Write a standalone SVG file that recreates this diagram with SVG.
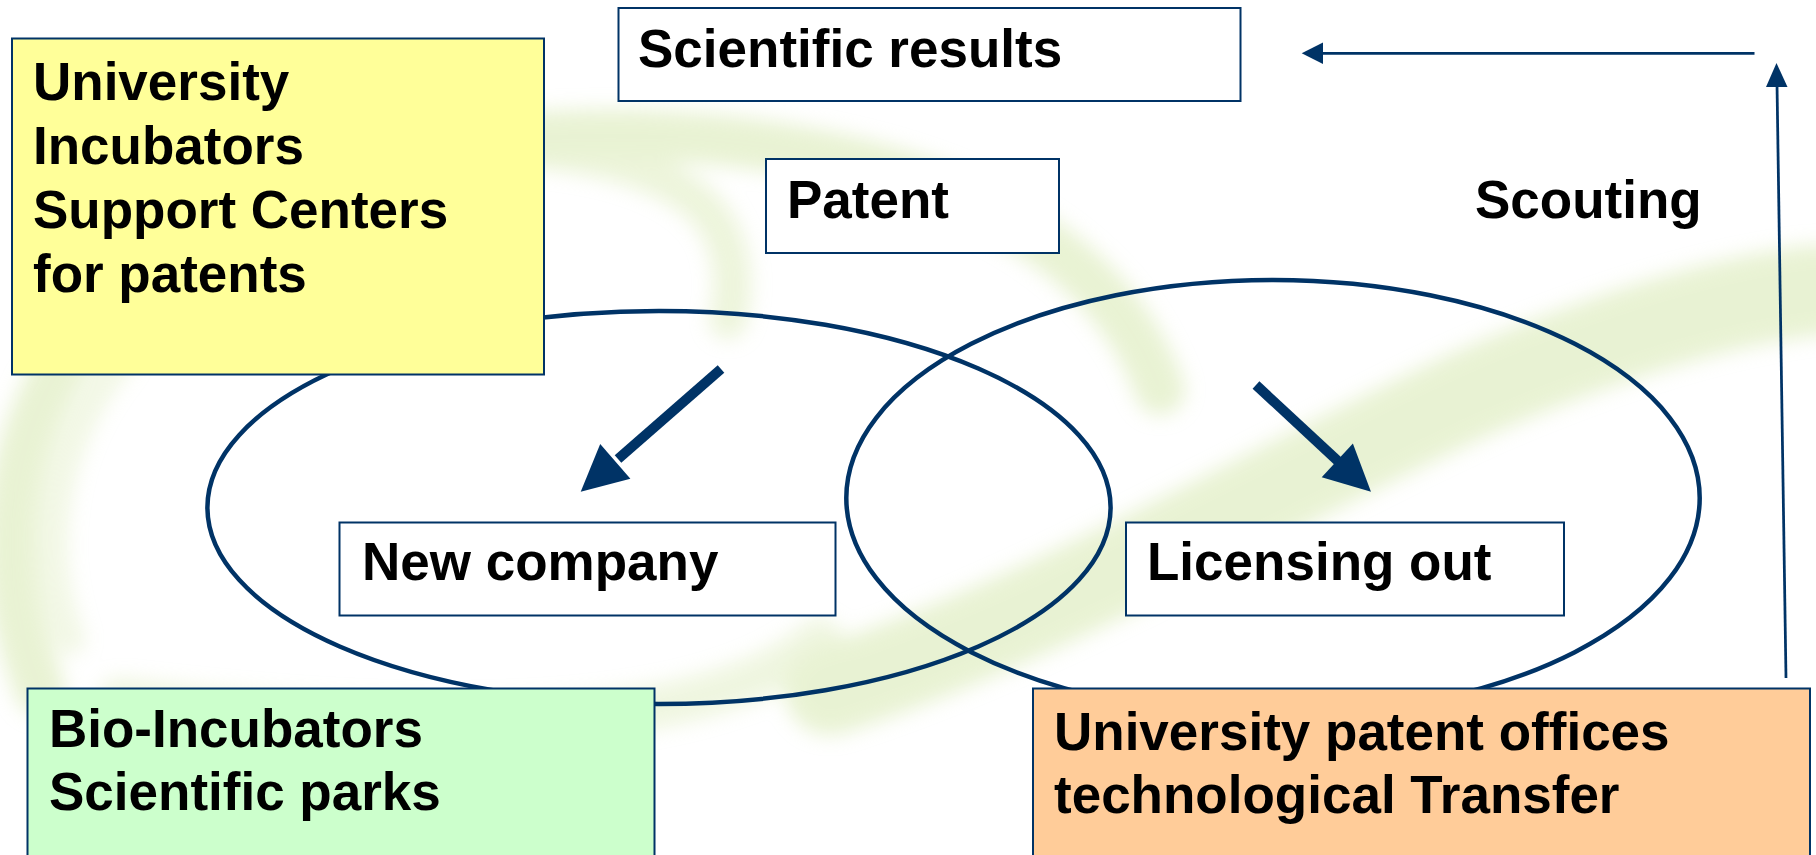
<svg xmlns="http://www.w3.org/2000/svg" width="1816" height="855" viewBox="0 0 1816 855">
  <style>
    .lbl { font-family: "Liberation Sans", Arial, sans-serif; font-weight: bold; font-size: 53px; fill: #000; }
    .box { stroke: #003366; stroke-width: 2; }
    .ring { fill: none; stroke: #003366; stroke-width: 4.5; }
    .thin { stroke: #003366; stroke-width: 2.75; fill: none; }
    .thick { stroke: #003366; stroke-width: 10; fill: none; }
    .head { fill: #003366; }
    .swoosh { fill: none; stroke: #d3e6a8; stroke-linecap: round; }
  </style>
  <defs>
    <filter id="soft" x="-10%" y="-10%" width="120%" height="120%">
      <feGaussianBlur stdDeviation="10"/>
    </filter>
  </defs>

  <rect width="1816" height="855" fill="#ffffff"/>

  <!-- faint logo watermark behind the chart -->
  <g id="watermark" filter="url(#soft)" opacity="0.5">
    <path class="swoosh" stroke-width="50" d="M 40 690 C -10 560 0 420 110 300 C 260 150 520 120 720 140 C 960 165 1110 250 1160 390"/>
    <path class="swoosh" stroke-width="44" opacity="0.7" d="M 120 700 C 600 760 760 690 820 640"/>
    <path class="swoosh" stroke-width="38" opacity="0.8" d="M 545 150 C 640 160 700 190 720 230 C 735 260 735 290 728 320"/>
    <path class="swoosh" stroke-width="30" opacity="0.6" d="M 70 640 C 40 560 45 450 120 360"/>
    <path class="swoosh" stroke-width="90" d="M 830 690 C 1050 620 1300 470 1480 390 C 1620 330 1730 300 1816 290"/>
  </g>

  <!-- overlapping fields -->
  <g id="field-new-company">
    <ellipse class="ring" cx="659" cy="507.5" rx="451.6" ry="196.5"/>
  </g>
  <g id="field-licensing">
    <ellipse class="ring" cx="1273" cy="498" rx="426.7" ry="218"/>
  </g>

  <g id="connectors">
    <!-- thick arrows toward the two outcomes -->
    <line class="thick" x1="721" y1="369" x2="618" y2="459"/>
    <polygon class="head" points="580.7,491.7 600.2,444.1 630.4,478.7"/>
    <line class="thick" x1="1256" y1="385" x2="1340" y2="463"/>
    <polygon class="head" points="1371,491.7 1321.7,477.3 1352.9,443.5"/>
    <!-- scouting loop back to scientific results -->
    <line class="thin" x1="1786" y1="678" x2="1777" y2="84"/>
    <polygon class="head" points="1776.5,63 1766,87 1787.5,87"/>
    <line class="thin" x1="1754.5" y1="53.3" x2="1321" y2="53.3"/>
    <polygon class="head" points="1301.7,53.3 1323,42.5 1323,64"/>
  </g>

  <g id="node-scientific-results">
    <rect class="box" x="618.5" y="8" width="622" height="93" fill="#ffffff"/>
    <text class="lbl" x="638" y="67">Scientific results</text>
  </g>

  <g id="node-patent">
    <rect class="box" x="766" y="159" width="293" height="94" fill="#ffffff"/>
    <text class="lbl" x="787" y="218">Patent</text>
  </g>

  <g id="node-scouting">
    <text class="lbl" x="1475" y="218">Scouting</text>
  </g>

  <g id="node-university">
    <rect class="box" x="12" y="38.5" width="532" height="336" fill="#ffff99"/>
    <text class="lbl" x="33" y="100">University</text>
    <text class="lbl" x="33" y="163.5">Incubators</text>
    <text class="lbl" x="33" y="228">Support Centers</text>
    <text class="lbl" x="33" y="292">for patents</text>
  </g>

  <g id="node-new-company">
    <rect class="box" x="339.5" y="522.5" width="496" height="93" fill="#ffffff"/>
    <text class="lbl" x="362" y="580">New company</text>
  </g>

  <g id="node-licensing-out">
    <rect class="box" x="1126" y="522.5" width="438" height="93" fill="#ffffff"/>
    <text class="lbl" x="1147" y="580">Licensing out</text>
  </g>

  <g id="node-bio-incubators">
    <rect class="box" x="27.5" y="688.5" width="627" height="180" fill="#ccffcc"/>
    <text class="lbl" x="49" y="747">Bio-Incubators</text>
    <text class="lbl" x="49" y="810">Scientific parks</text>
  </g>

  <g id="node-patent-offices">
    <rect class="box" x="1033" y="688.5" width="777" height="180" fill="#ffcc99"/>
    <text class="lbl" x="1054" y="750">University patent offices</text>
    <text class="lbl" x="1054" y="813">technological Transfer</text>
  </g>
</svg>
